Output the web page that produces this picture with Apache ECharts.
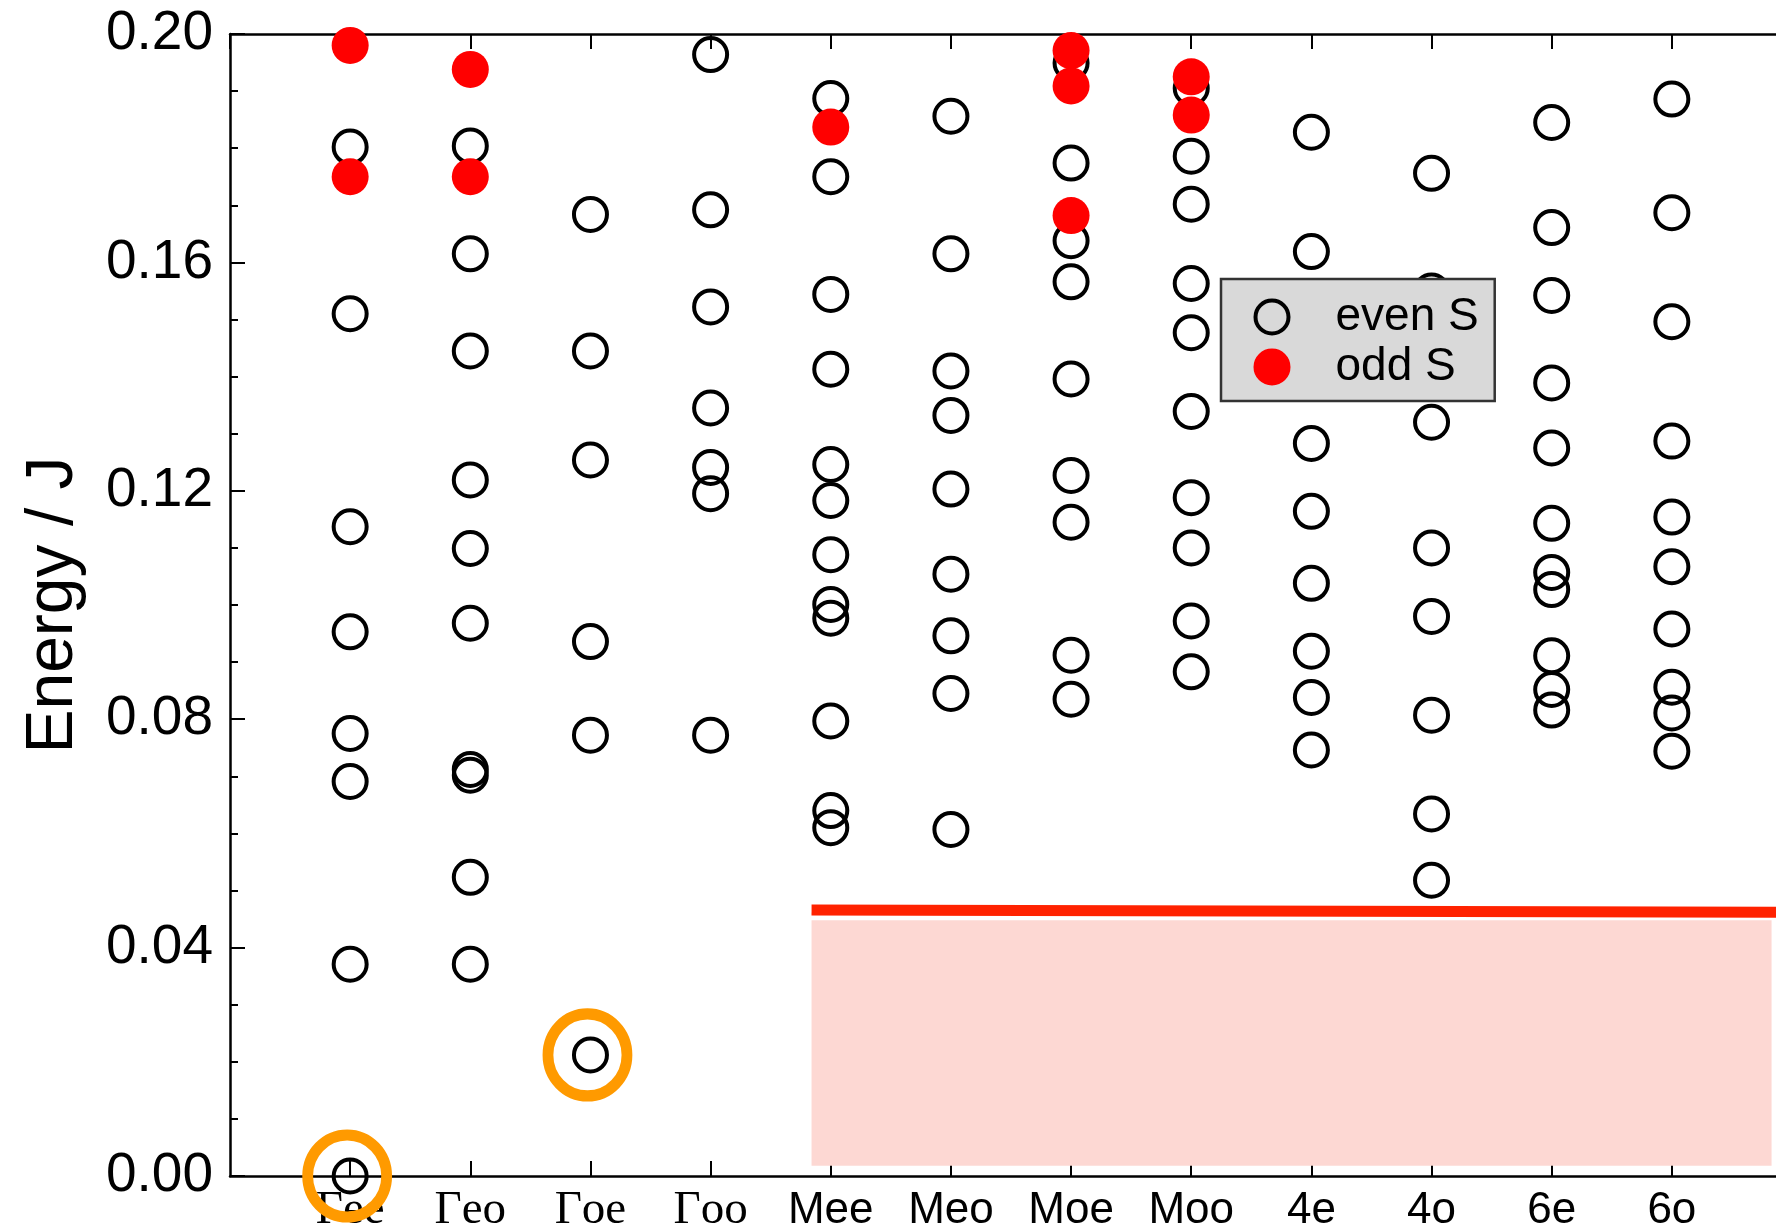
<!DOCTYPE html>
<html>
<head>
<meta charset="utf-8">
<script src="https://cdn.jsdelivr.net/npm/echarts@6/dist/echarts.min.js"></script>
<style>
  html, body { margin: 0; padding: 0; background: #fff; }
  #chart { width: 1776px; height: 1232px; }
</style>
</head>
<body>
<div id="chart"></div>
<script>
// ---- categories (symmetry sectors) ----
const categories = ['Γee', 'Γeo', 'Γoe', 'Γoo', 'Mee', 'Meo', 'Moe', 'Moo', '4e', '4o', '6e', '6o'];

// ---- even-S levels (open circles), Energy / J ----
const evenGee = [0.1802, 0.1510, 0.1137, 0.0953, 0.0775, 0.0691, 0.0371, 0.0000];
const evenGeo = [0.1804, 0.1615, 0.1445, 0.1219, 0.1099, 0.0968, 0.0712, 0.0702, 0.0523, 0.0371];
const evenGoe = [0.1684, 0.1445, 0.1254, 0.0936, 0.0772, 0.0212];
const evenGoo = [0.1964, 0.1692, 0.1522, 0.1345, 0.1241, 0.1195, 0.0772];
const evenMee = [0.1887, 0.1750, 0.1544, 0.1413, 0.1246, 0.1183, 0.1088, 0.1001, 0.0977, 0.0797, 0.0640, 0.0610];
const evenMeo = [0.1856, 0.1615, 0.1410, 0.1332, 0.1203, 0.1054, 0.0946, 0.0845, 0.0607];
const evenMoe = [0.1949, 0.1774, 0.1638, 0.1566, 0.1396, 0.1227, 0.1145, 0.0912, 0.0835];
const evenMoo = [0.1905, 0.1786, 0.1702, 0.1563, 0.1477, 0.1339, 0.1188, 0.1100, 0.0972, 0.0883];
const even4e  = [0.1828, 0.1619, 0.1283, 0.1164, 0.1038, 0.0919, 0.0838, 0.0746];
const even4o  = [0.1756, 0.1550, 0.1320, 0.1100, 0.0980, 0.0807, 0.0634, 0.0518];
const even6e  = [0.1845, 0.1661, 0.1542, 0.1389, 0.1275, 0.1143, 0.1057, 0.1027, 0.0911, 0.0852, 0.0816];
const even6o  = [0.1886, 0.1687, 0.1496, 0.1287, 0.1154, 0.1067, 0.0958, 0.0856, 0.0811, 0.0744];

// ---- odd-S levels (filled red) ----
const oddGee = [0.1980, 0.1750];
const oddGeo = [0.1938, 0.1750];
const oddMee = [0.1837];
const oddMoe = [0.1971, 0.1909, 0.1682];
const oddMoo = [0.1925, 0.1858];

const evenLevels = [evenGee, evenGeo, evenGoe, evenGoo, evenMee, evenMeo, evenMoe, evenMoo, even4e, even4o, even6e, even6o];
const oddLevels  = [oddGee, oddGeo, [], [], oddMee, [], oddMoe, oddMoo, [], [], [], []];

// ---- highlighted ground states (orange rings) ----
const highlightedSectors = ['Γee', 'Γoe'];

// ---- shaded continuum band and its edge line (x in sector units, y in J) ----
const bandX = [4.84, 12.83];
const bandY = [0.0018, 0.0448];
const edgeLineX = [4.84, 13];
const edgeLineY = [0.0466, 0.0462];

// ---- y tick settings ----
const yMin = 0, yMax = 0.20, yStep = 0.04;

// build scatter data
const evenData = [];
evenLevels.forEach((arr, i) => arr.forEach(v => evenData.push([i + 1, v])));
const oddData = [];
oddLevels.forEach((arr, i) => arr.forEach(v => oddData.push([i + 1, v])));
const ringData = highlightedSectors.map(name => {
  const i = categories.indexOf(name);
  return [i + 1, Math.min(...evenLevels[i])];
});

const chart = echarts.init(document.getElementById('chart'), null, { renderer: 'canvas' });

const axisLineStyle = { color: '#000', width: 2.5 };

chart.setOption({
  animation: false,
  backgroundColor: '#ffffff',
  grid: { left: 230, top: 34, width: 1562, bottom: 56, containLabel: false, outerBoundsMode: 'none' },
  legend: {
    orient: 'vertical',
    left: 1221,
    top: 279,
    backgroundColor: '#d9d9d9',
    borderColor: '#333333',
    borderWidth: 2.5,
    borderRadius: 0,
    padding: [15, 16, 11, 32.5],
    itemWidth: 33,
    itemHeight: 33,
    itemGap: 4,
    textStyle: {
      fontFamily: 'Liberation Sans, Arial, sans-serif',
      fontSize: 46,
      color: '#000',
      padding: [0, 0, 0, 42]
    },
    data: [
      { name: 'even S', icon: 'circle', itemStyle: { color: 'transparent', borderColor: '#000', borderWidth: 4, opacity: 1 } },
      { name: 'odd S', icon: 'circle', itemStyle: { color: '#ff0000', borderColor: '#ff0000', borderWidth: 4, opacity: 1 } }
    ]
  },
  xAxis: [
    {
      type: 'value',
      min: 0,
      max: 13,
      interval: 1,
      position: 'bottom',
      splitLine: { show: false },
      axisLine: { show: true, lineStyle: axisLineStyle },
      axisTick: { show: true, inside: true, length: 15, lineStyle: { color: '#000', width: 2 } },
      axisLabel: {
        show: true,
        margin: 10,
        showMinLabel: false,
        showMaxLabel: false,
        formatter: v => {
          const name = categories[v - 1];
          if (!name) return '';
          return name.charAt(0) === 'Γ' ? '{g|' + name + '}' : '{s|' + name + '}';
        },
        rich: {
          g: { fontFamily: 'Liberation Serif, Times New Roman, serif', fontSize: 47, color: '#000', lineHeight: 50 },
          s: { fontFamily: 'Liberation Sans, Arial, sans-serif', fontSize: 44, color: '#000', lineHeight: 50 }
        }
      }
    },
    {
      type: 'value',
      min: 0,
      max: 13,
      interval: 1,
      position: 'top',
      splitLine: { show: false },
      axisLine: { show: true, lineStyle: axisLineStyle },
      axisTick: { show: true, inside: true, length: 15, lineStyle: { color: '#000', width: 2 } },
      axisLabel: { show: false }
    }
  ],
  yAxis: {
    type: 'value',
    min: yMin,
    max: yMax,
    interval: yStep,
    name: 'Energy / J',
    nameLocation: 'middle',
    nameGap: 143,
    nameTextStyle: { fontFamily: 'Liberation Sans, Arial, sans-serif', fontSize: 66, color: '#000' },
    splitLine: { show: false },
    axisLine: { show: true, lineStyle: axisLineStyle },
    axisTick: { show: true, inside: true, length: 15, lineStyle: { color: '#000', width: 2 } },
    minorTick: { show: true, splitNumber: 4, length: 8, lineStyle: { color: '#000', width: 2 } },
    axisLabel: {
      margin: 17,
      fontFamily: 'Liberation Sans, Arial, sans-serif',
      fontSize: 55,
      color: '#000',
      formatter: v => v.toFixed(2)
    }
  },
  series: [
    {
      name: 'band',
      type: 'scatter',
      data: [],
      silent: true,
      markArea: {
        silent: true,
        itemStyle: { color: '#fdd8d3', opacity: 1 },
        data: [[{ coord: [bandX[0], bandY[0]] }, { coord: [bandX[1], bandY[1]] }]]
      },
      markLine: {
        silent: true,
        symbol: ['none', 'none'],
        label: { show: false },
        lineStyle: { color: '#ff2200', width: 11, type: 'solid', opacity: 1 },
        data: [[{ coord: [edgeLineX[0], edgeLineY[0]] }, { coord: [edgeLineX[1], edgeLineY[1]] }]]
      }
    },
    {
      name: 'even S',
      type: 'scatter',
      clip: false,
      symbol: 'circle',
      symbolSize: 33,
      itemStyle: { color: 'transparent', borderColor: '#000', borderWidth: 4, opacity: 1 },
      data: evenData,
      z: 3
    },
    {
      name: 'odd S',
      type: 'scatter',
      clip: false,
      symbol: 'circle',
      symbolSize: 37,
      itemStyle: { color: '#ff0000', borderWidth: 0, opacity: 1 },
      data: oddData,
      z: 4
    },
    {
      name: 'ground',
      type: 'scatter',
      clip: false,
      symbol: 'circle',
      symbolSize: [79, 82],
      symbolOffset: [-3, 0],
      itemStyle: { color: 'transparent', borderColor: '#ff9a00', borderWidth: 11, opacity: 1 },
      data: ringData,
      z: 5
    }
  ]
});
</script>
</body>
</html>
